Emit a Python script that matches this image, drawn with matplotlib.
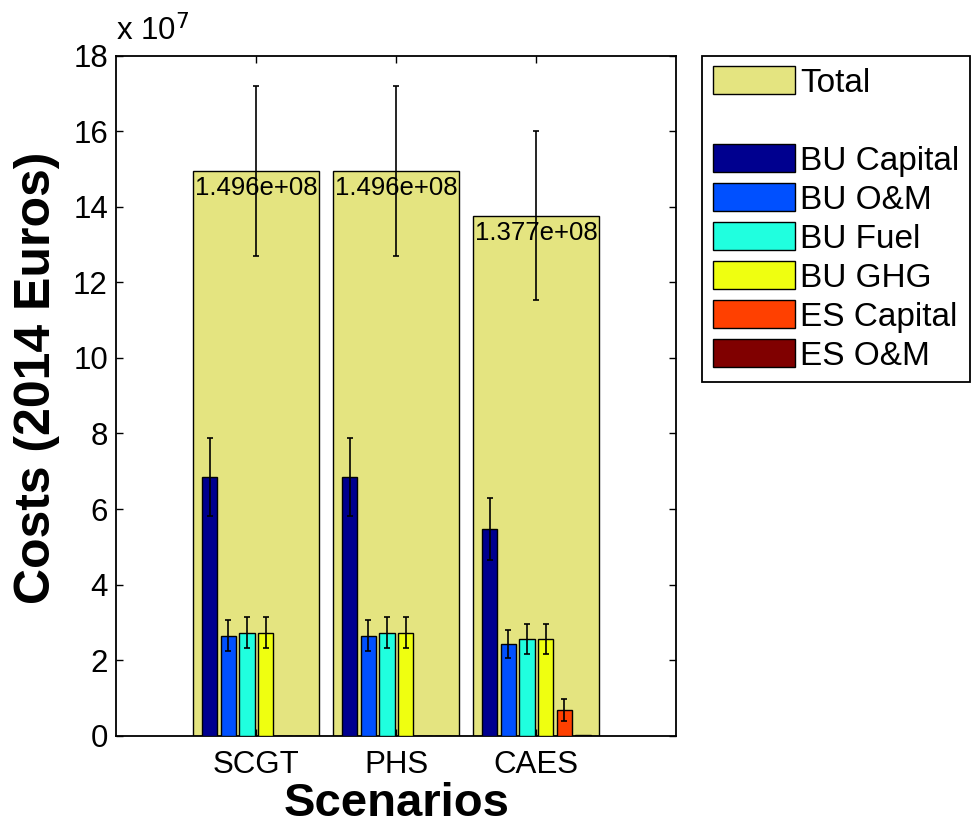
import numpy as np
import matplotlib
matplotlib.use("Agg")
import matplotlib.pyplot as plt
from matplotlib.patches import Patch
from matplotlib.ticker import FuncFormatter

plt.rcParams['font.family'] = ['Liberation Sans', 'DejaVu Sans']

scenarios = ['SCGT', 'PHS', 'CAES']
total = [1.496e8, 1.496e8, 1.377e8]
total_err = [2.25e7, 2.25e7, 2.24e7]
total_labels = ['1.496e+08', '1.496e+08', '1.377e+08']

components = ['BU Capital', 'BU O&M', 'BU Fuel', 'BU GHG', 'ES Capital', 'ES O&M']
bu_capital = [6.84e7, 6.84e7, 5.47e7]
bu_capital_err = [1.03e7, 1.03e7, 0.83e7]
bu_om = [2.65e7, 2.65e7, 2.42e7]
bu_om_err = [0.40e7, 0.40e7, 0.37e7]
bu_fuel = [2.73e7, 2.73e7, 2.56e7]
bu_fuel_err = [0.41e7, 0.41e7, 0.39e7]
bu_ghg = [2.73e7, 2.73e7, 2.56e7]
bu_ghg_err = [0.41e7, 0.41e7, 0.39e7]
es_capital = [0.0, 0.0, 0.68e7]
es_capital_err = [0.0, 0.0, 0.28e7]
es_om = [0.0, 0.0, 0.02e7]
es_om_err = [0.0, 0.0, 0.0]

comp_values = [bu_capital, bu_om, bu_fuel, bu_ghg, es_capital, es_om]
comp_errs = [bu_capital_err, bu_om_err, bu_fuel_err, bu_ghg_err, es_capital_err, es_om_err]
comp_colors = ['#00008F', '#0050FF', '#20FFDF', '#EFFF10', '#FF4000', '#800000']
total_color = '#E4E480'

fig = plt.figure(figsize=(9.77, 8.26), dpi=100)
ax = fig.add_axes([116.3 / 977, 1 - 735.7 / 826, 560 / 977, 680 / 826])

x = np.arange(1, len(scenarios) + 1)
ax.bar(x, total, width=0.9, color=total_color, edgecolor='black', linewidth=1.0, zorder=1)
ax.errorbar(x, total, yerr=total_err, fmt='none', ecolor='black', elinewidth=1.2,
            capsize=2.2, capthick=1.2, zorder=2)
for xi, t, lab in zip(x, total, total_labels):
    ax.annotate(lab, xy=(xi - 0.45, t), xytext=(2, -5), textcoords='offset pixels',
                ha='left', va='top', fontsize=18.5, zorder=3)

step = 0.8 / 6
width = 0.11
for i, (vals, errs, col) in enumerate(zip(comp_values, comp_errs, comp_colors)):
    xs = x + (i - 2.5) * step
    ax.bar(xs, vals, width=width, color=col, edgecolor='black', linewidth=1.0, zorder=4)
    errs = np.array(errs)
    m = errs > 0
    if m.any():
        ax.errorbar(xs[m], np.array(vals)[m], yerr=errs[m], fmt='none', ecolor='black',
                    elinewidth=1.2, capsize=2.2, capthick=1.2, zorder=5)

ax.set_xlim(0, 4)
ax.set_ylim(0, 18e7)
ax.set_xticks(x)
ax.set_xticklabels(scenarios)
ax.set_yticks(np.arange(0, 18.1e7, 2e7))
ax.yaxis.set_major_formatter(FuncFormatter(lambda v, p: f"{v / 1e7:g}"))
ax.tick_params(axis='both', direction='in', length=5, width=1, labelsize=22.5,
               top=True, right=True)
ax.tick_params(axis='x', pad=10)
ax.tick_params(axis='y', pad=6)
for s in ax.spines.values():
    s.set_linewidth(1.3)

ax.text(0.0, 1.012, r'x 10$^{7}$', transform=ax.transAxes, fontsize=22.5,
        ha='left', va='bottom')

ax.set_xlabel('Scenarios', fontsize=34, fontweight='bold', labelpad=2)
ax.set_ylabel('Costs (2014 Euros)', fontsize=36, fontweight='bold')
ax.yaxis.set_label_coords(-0.1, 0.527)

handles = [Patch(facecolor=total_color, edgecolor='black', linewidth=1.0),
           Patch(facecolor='none', edgecolor='none')]
labels = ['Total', ' ']
for c, name in zip(comp_colors, components):
    handles.append(Patch(facecolor=c, edgecolor='black', linewidth=1.0))
    labels.append(name)

leg = fig.legend(handles, labels, loc='upper left', bbox_to_anchor=(702 / 977, 1 - 55.7 / 826),
                 borderaxespad=0, fontsize=24, handlelength=2.48, handleheight=0.9,
                 handletextpad=0.15, labelspacing=0.2, borderpad=0.32,
                 fancybox=False, framealpha=1, edgecolor='black')
leg.get_frame().set_linewidth(1.3)

fig.savefig('out.png', dpi=100)
